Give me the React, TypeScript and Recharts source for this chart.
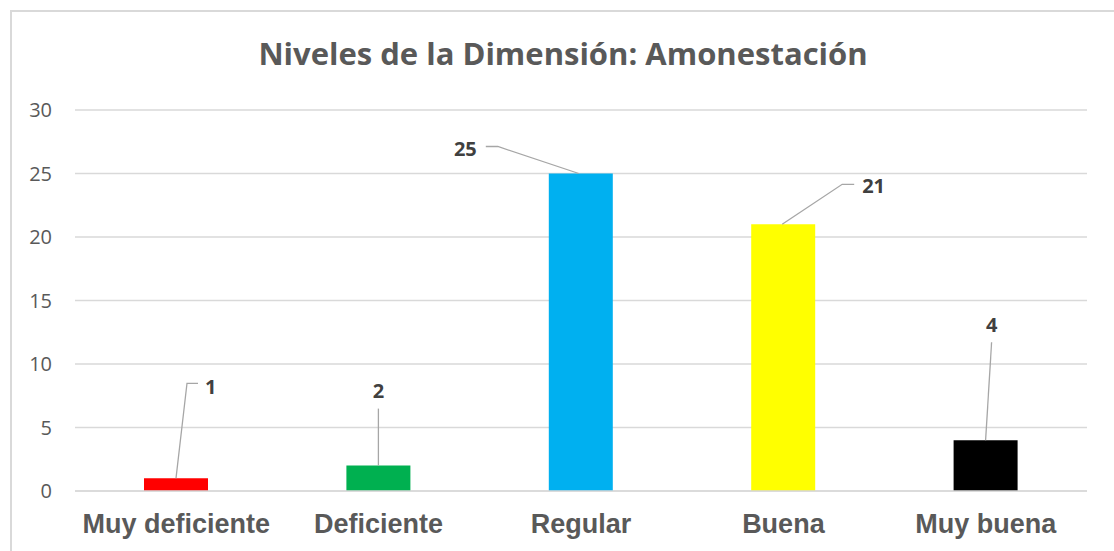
import React from "react";
import { BarChart, Bar, XAxis, YAxis, CartesianGrid, Cell, LabelList } from "recharts";

const categories = ["Muy deficiente", "Deficiente", "Regular", "Buena", "Muy buena"];
const counts = [1, 2, 25, 21, 4];
const barColors = ["#FF0000", "#00B050", "#00B0F0", "#FFFF00", "#000000"];
const yTicks = [0, 5, 10, 15, 20, 25, 30];

// leader line layout for each data label, relative to the bar's top centre
const LEADERS = [
  { pts: [[0, 0], [11, -95], [22, -95]], tx: 29, ty: -92, anchor: "start" },
  { pts: [[0, 0], [0, -57]], tx: 0, ty: -75, anchor: "middle" },
  { pts: [[-2, 0], [-83, -27], [-95, -27]], tx: -104, ty: -25, anchor: "end" },
  { pts: [[-1, 0], [59, -40], [71, -40]], tx: 79, ty: -39, anchor: "start" },
  { pts: [[0, 0], [6, -98]], tx: 6, ty: -116, anchor: "middle" },
];

const data = categories.map((name, i) => ({ name, value: counts[i] }));

const LeaderLabel = (props: any) => {
  const { x, y, width, value, index } = props;
  const cfg = LEADERS[index];
  if (!cfg) return null;
  const cx = Number(x) + Number(width) / 2;
  const cy = Number(y);
  const points = cfg.pts.map(([dx, dy]) => `${cx + dx},${cy + dy}`).join(" ");
  return (
    <g>
      <polyline points={points} fill="none" stroke="#a6a6a6" strokeWidth={1.3} />
      <text
        x={cx + cfg.tx}
        y={cy + cfg.ty}
        textAnchor={cfg.anchor}
        dominantBaseline="central"
        fill="#404040"
        fontFamily="'Open Sans', sans-serif"
        fontWeight={700}
        fontSize={20}
      >
        {value}
      </text>
    </g>
  );
};

export default function App() {
  return (
    <div
      style={{
        position: "absolute",
        left: 0,
        top: 0,
        width: 1114,
        height: 551,
        overflow: "hidden",
        background: "#fff",
      }}
    >
      <div
        style={{
          position: "absolute",
          left: 10,
          top: 10,
          width: 1300,
          height: 800,
          border: "2px solid #d9d9d9",
        }}
      />
      <div
        style={{
          position: "absolute",
          left: 0,
          top: 38,
          width: 1126,
          textAlign: "center",
          fontFamily: "'Open Sans', sans-serif",
          fontWeight: 700,
          fontSize: 31,
          lineHeight: "31px",
          color: "#595959",
          whiteSpace: "nowrap",
        }}
      >
        Niveles de la Dimensión: Amonestación
      </div>
      <div style={{ position: "absolute", left: 0, top: 0 }}>
        <BarChart
          width={1114}
          height={551}
          data={data}
          margin={{ top: 110, right: 27, left: 15, bottom: 0 }}
        >
          <CartesianGrid vertical={false} stroke="#d9d9d9" strokeWidth={1.5} />
          <XAxis
            dataKey="name"
            height={60}
            axisLine={{ stroke: "#d9d9d9", strokeWidth: 1.5 }}
            tickLine={false}
            tickSize={6}
            tickMargin={17}
            interval={0}
            tick={{
              fill: "#595959",
              fontFamily: "'Liberation Sans', Arial, sans-serif",
              fontWeight: 700,
              fontSize: 27,
            }}
          />
          <YAxis
            width={60}
            domain={[0, 30]}
            ticks={yTicks}
            axisLine={false}
            tickLine={false}
            tickSize={6}
            tickMargin={17}
            tick={{ fill: "#595959", fontFamily: "'Open Sans', sans-serif", fontSize: 20 }}
          />
          <Bar dataKey="value" barSize={64} isAnimationActive={false}>
            {data.map((d, i) => (
              <Cell key={d.name} fill={barColors[i]} />
            ))}
            <LabelList dataKey="value" content={<LeaderLabel />} />
          </Bar>
        </BarChart>
      </div>
    </div>
  );
}
